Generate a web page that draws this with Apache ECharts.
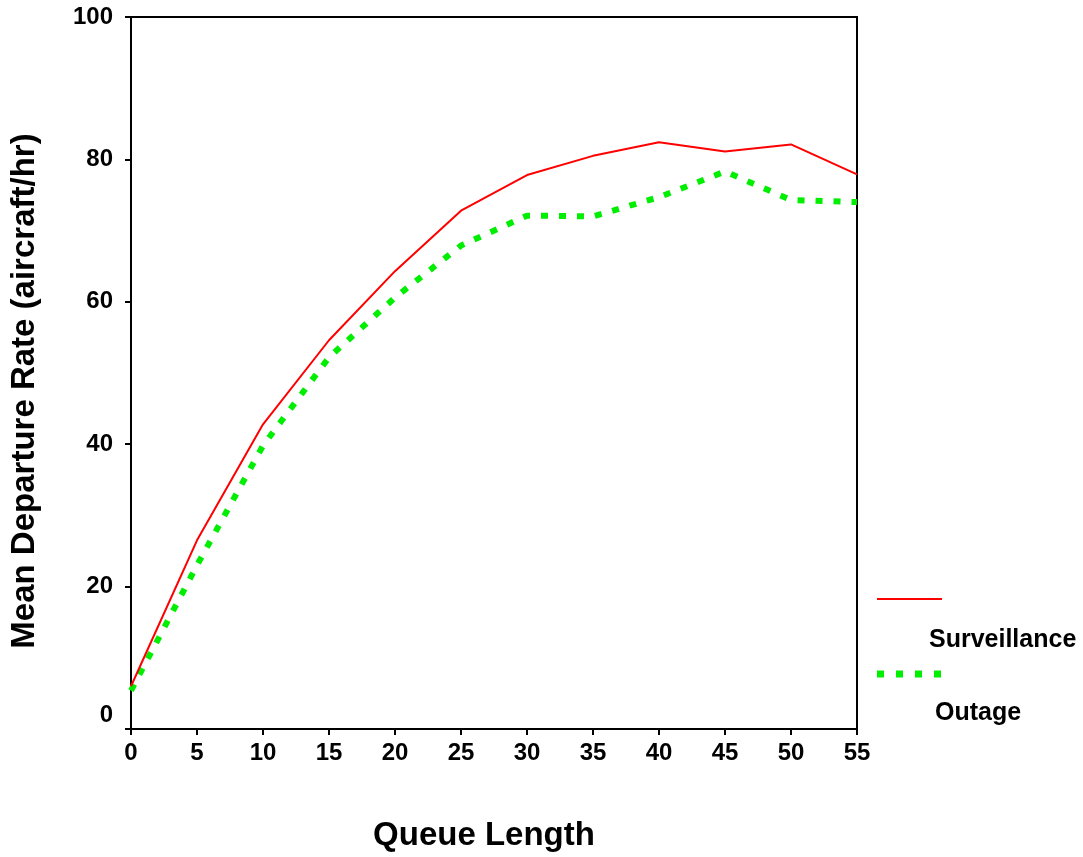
<!DOCTYPE html>
<html><head><meta charset="utf-8">
<script src="https://cdn.jsdelivr.net/npm/echarts@6/dist/echarts.min.js"></script>
<style>html,body{margin:0;padding:0;background:#fff}#c{width:1083px;height:857px}</style>
</head><body><div id="c"></div>
<script>
const queueLength = [0, 5, 10, 15, 20, 25, 30, 35, 40, 45, 50, 55];
const surveillance = [6.0, 26.5, 42.8, 54.6, 64.3, 72.8, 77.8, 80.5, 82.4, 81.1, 82.1, 77.9];
const outage = [5.4, 23.0, 39.8, 52.2, 60.6, 67.9, 72.1, 72.0, 74.7, 78.3, 74.3, 74.0];
const seriesNames = ['Surveillance', 'Outage'];
const xTitle = 'Queue Length';
const yTitle = 'Mean Departure Rate (aircraft/hr)';

const FONT = '"Liberation Sans", Arial, sans-serif';
const chart = echarts.init(document.getElementById('c'), null, {renderer: 'canvas'});
chart.setOption({
  animation: false,
  backgroundColor: '#fff',
  grid: {left: 131, right: 226, top: 17, bottom: 126, show: true, borderColor: '#000', borderWidth: 2, backgroundColor: 'transparent'},
  xAxis: {
    type: 'value', min: 0, max: 55, interval: 5,
    name: xTitle, nameLocation: 'middle', nameGap: 90,
    nameTextStyle: {fontFamily: FONT, fontWeight: 'bold', fontSize: 33, color: '#000', padding: [0, 20, 0, 0]},
    axisLine: {lineStyle: {color: '#000', width: 2}},
    axisTick: {show: true, inside: false, length: 6, lineStyle: {color: '#000', width: 2}},
    axisLabel: {fontFamily: FONT, fontWeight: 'bold', fontSize: 24, color: '#000', margin: 12},
    splitLine: {show: false}
  },
  yAxis: {
    type: 'value', min: 0, max: 100, interval: 20,
    name: yTitle, nameLocation: 'middle', nameGap: 90,
    nameTextStyle: {fontFamily: FONT, fontWeight: 'bold', fontSize: 33, color: '#000', padding: [0, 36, 0, 0]},
    axisLine: {lineStyle: {color: '#000', width: 2}},
    axisTick: {show: true, inside: false, length: 6, lineStyle: {color: '#000', width: 2}},
    axisLabel: {
      fontFamily: FONT, fontWeight: 'bold', fontSize: 24, color: '#000', margin: 18,
      formatter: v => v === 0 ? '{z|0}' : String(v),
      rich: {z: {fontFamily: FONT, fontWeight: 'bold', fontSize: 24, color: '#000', padding: [0, 0, 28, 0]}}
    },
    splitLine: {show: false}
  },
  series: [
    {name: seriesNames[0], type: 'line', symbol: 'none', z: 3,
     data: queueLength.map((x, i) => [x, surveillance[i]]),
     lineStyle: {color: '#ff0000', width: 2}},
    {name: seriesNames[1], type: 'line', symbol: 'none', z: 2,
     data: queueLength.map((x, i) => [x, outage[i]]),
     lineStyle: {color: '#00ee00', width: 6, type: [7, 11]}}
  ],
  graphic: [
    {type: 'line', shape: {x1: 877, y1: 599, x2: 942, y2: 599}, style: {stroke: '#ff0000', lineWidth: 2}},
    {type: 'text', left: 929, top: 628, style: {text: seriesNames[0], font: 'bold 25px ' + FONT, fill: '#000'}},
    {type: 'line', shape: {x1: 877, y1: 674, x2: 942, y2: 674}, style: {stroke: '#00ee00', lineWidth: 7, lineDash: [7, 12]}},
    {type: 'text', left: 935, top: 701, style: {text: seriesNames[1], font: 'bold 25px ' + FONT, fill: '#000'}}
  ]
});
</script></body></html>
